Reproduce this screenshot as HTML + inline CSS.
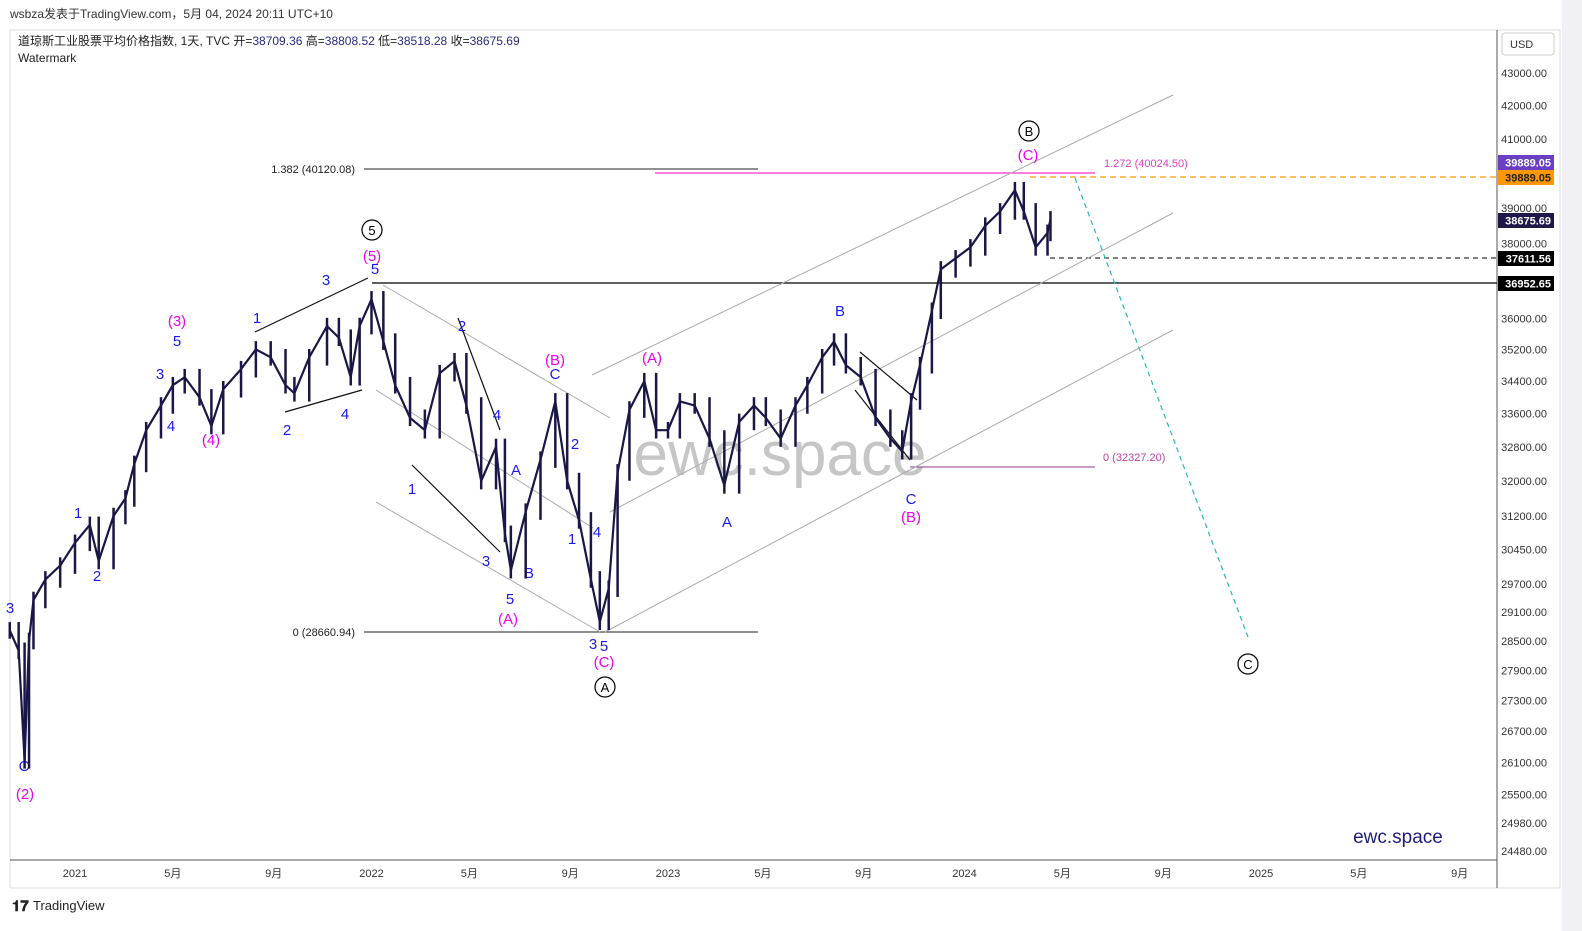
<!DOCTYPE html>
<html><head><meta charset="utf-8">
<style>
html,body{margin:0;padding:0;background:#fff;width:1582px;height:931px;overflow:hidden;font-family:"Liberation Sans","Noto Sans CJK SC",sans-serif;}
svg{position:absolute;left:0;top:0}
</style></head>
<body>
<svg id="chart" width="1582" height="931" xmlns="http://www.w3.org/2000/svg" font-family="Liberation Sans, Noto Sans CJK SC, sans-serif">
<rect x="0" y="0" width="1582" height="931" fill="#fff"/>
<rect x="1562" y="0" width="20" height="931" fill="#f0f0f5"/>
<text x="10" y="18" font-size="12" fill="#333">wsbza发表于TradingView.com，5月 04, 2024 20:11 UTC+10</text>
<line x1="10" y1="30" x2="1560" y2="30" stroke="#ddd"/>
<line x1="10" y1="30" x2="10" y2="888" stroke="#ddd"/>
<line x1="1560" y1="30" x2="1560" y2="888" stroke="#ddd"/>
<line x1="10" y1="888" x2="1560" y2="888" stroke="#ddd"/>
<text x="18" y="45" font-size="12" fill="#222">道琼斯工业股票平均价格指数, 1天, TVC  开=<tspan fill="#2a2a80">38709.36</tspan>  高=<tspan fill="#2a2a80">38808.52</tspan>  低=<tspan fill="#2a2a80">38518.28</tspan>  收=<tspan fill="#2a2a80">38675.69</tspan></text>
<text x="18" y="62" font-size="12" fill="#222">Watermark</text>
<text x="780" y="475" font-size="62" fill="#b8b8b8" text-anchor="middle" opacity="0.8">ewc.space</text>
<text x="1398" y="843" font-size="19" fill="#1c1c7a" text-anchor="middle">ewc.space</text>
<line x1="1497" y1="30" x2="1497" y2="888" stroke="#555"/>
<line x1="10" y1="860" x2="1497" y2="860" stroke="#555"/>
<rect x="1502" y="33" width="52" height="22" rx="3" fill="#fff" stroke="#ccc"/>
<text x="1510" y="48" font-size="11" fill="#333">USD</text>
<g id="ann"></g>
<g id="bars"></g>
<g id="axes"></g>
<text x="12" y="911" font-size="15" font-weight="bold" fill="#222">𝟏𝟕</text>
<text x="33" y="910" font-size="13" fill="#222">TradingView</text>
</svg>
<script>
const dates=[2020.78,2020.81,2020.83,2020.845,2020.86,2020.90,2020.95,2021.00,2021.05,2021.08,2021.13,2021.17,2021.20,2021.24,2021.29,2021.33,2021.37,2021.42,2021.46,2021.50,2021.56,2021.61,2021.66,2021.71,2021.74,2021.79,2021.85,2021.89,2021.93,2021.96,2022.00,2022.04,2022.08,2022.13,2022.18,2022.23,2022.28,2022.32,2022.37,2022.42,2022.45,2022.47,2022.52,2022.57,2022.62,2022.66,2022.70,2022.74,2022.77,2022.80,2022.83,2022.87,2022.92,2022.96,2023.00,2023.04,2023.09,2023.14,2023.19,2023.24,2023.29,2023.33,2023.38,2023.43,2023.47,2023.52,2023.56,2023.60,2023.65,2023.70,2023.75,2023.79,2023.82,2023.85,2023.89,2023.92,2023.97,2024.02,2024.07,2024.12,2024.17,2024.20,2024.24,2024.28,2024.29];
const closes=[28720,28300,26140,28500,29360,29800,30100,30600,31000,30200,31200,31600,32400,33200,33800,34300,34500,34000,33300,34200,34700,35200,35000,34300,34100,35000,35800,35500,34500,35800,36500,35400,34300,33500,33200,34600,34900,33800,32000,32800,30800,30000,31300,32500,33900,32000,31100,29800,28900,29600,32200,33700,34400,33200,33200,33900,33800,33000,31900,33400,33800,33500,33000,33800,34300,35000,35400,34800,34500,33500,33000,32700,33900,34800,36200,37300,37600,37900,38500,38900,39500,38900,37900,38300,38675];
const priceTicks=[43000,42000,41000,39000,38000,36000,35200,34400,33600,32800,32000,31200,30450,29700,29100,28500,27900,27300,26700,26100,25500,24980,24480];
const timeTicks=[[2021,"2021"],[2021.33,"5月"],[2021.67,"9月"],[2022,"2022"],[2022.33,"5月"],[2022.67,"9月"],[2023,"2023"],[2023.32,"5月"],[2023.66,"9月"],[2024,"2024"],[2024.33,"5月"],[2024.67,"9月"],[2025,"2025"],[2025.33,"5月"],[2025.67,"9月"]];
const NS="http://www.w3.org/2000/svg";
function y(p){return 73-1381*Math.log(p/43000);}
function x(t){return 75+(t-2021)*296.5;}
function mk(tag,attrs,parent){const e=document.createElementNS(NS,tag);for(const k in attrs)e.setAttribute(k,attrs[k]);parent.appendChild(e);return e;}
const bars=document.getElementById('bars'),axes=document.getElementById('axes'),ann=document.getElementById('ann');
let pts=dates.map((d,i)=>x(d).toFixed(1)+','+y(closes[i]).toFixed(1)).join(' ');
const pl=mk('polyline',{points:pts,fill:'none',stroke:'#1a1646','stroke-width':2.2},bars);


for(let i=0;i<dates.length;i++){
  const prev=i>0?closes[i-1]:closes[i];
  const hi=Math.max(prev,closes[i])*1.006, lo=Math.min(prev,closes[i])*0.994;
  const b=mk('line',{x1:x(dates[i]),x2:x(dates[i]),y1:y(hi),y2:y(lo),stroke:'#1a1646','stroke-width':2.5},bars);
  
  
}
priceTicks.forEach(p=>{
  const t=mk('text',{x:1547,y:y(p)+4,'font-size':11,fill:'#333','text-anchor':'end'},axes);
  t.textContent=p.toFixed(2);
  
  
});
timeTicks.forEach(tt=>{
  const t=mk('text',{x:x(tt[0]),y:877,'font-size':11,fill:'#333','text-anchor':'middle'},axes);
  t.textContent=tt[1];
  
  
});
[[155,'#6a3fc4','#fff','39889.05'],[170,'#ff9800','#222','39889.05'],[213,'#21184a','#fff','38675.69'],[251,'#000','#fff','37611.56'],[276,'#000','#fff','36952.65']].forEach(l=>{
  const cy=l[0];
  const r=mk('rect',{x:1498,y:cy,width:56,height:15,fill:l[1]},axes);
  
  
  const t=mk('text',{x:1551,y:cy+11.5,'font-size':11,'font-weight':'bold',fill:l[2],'text-anchor':'end'},axes);
  t.textContent=l[3];
  
  
});
const lines=[
 [364,169,758,169,'#222',1,''],[364,632,758,632,'#222',1,''],[655,173,1095,173,'#ff33cc',1.2,''],[910,467,1095,467,'#8a3a8a',1,''],
 [1030,177,1497,177,'#ff9800',1.2,'6,4'],[1050,258,1497,258,'#000',1,'5,4'],[372,283,1497,283,'#000',1.2,''],[1075,178,1248,637,'#29b6c8',1.2,'5,4'],
 [592,375,1173,95,'#aaa',1,''],[610,512,1173,213,'#aaa',1,''],[605,632,1173,330,'#aaa',1,''],
 [383,285,610,418,'#aaa',1,''],[376,390,593,528,'#aaa',1,''],[376,502,600,632,'#aaa',1,''],
 [255,332,368,278,'#111',1.2,''],[285,412,362,390,'#111',1.2,''],[458,318,500,430,'#111',1.2,''],[412,465,500,552,'#111',1.2,''],
 [860,352,917,400,'#111',1.2,''],[855,390,910,460,'#111',1.2,'']];
lines.forEach(l=>{
  const e=mk('line',{x1:l[0],y1:l[1],x2:l[2],y2:l[3],stroke:l[4],'stroke-width':l[5]},ann);
  if(l[6])e.setAttribute('stroke-dasharray',l[6]);
  
  
});
[[355,173,'end','#222','1.382 (40120.08)'],[355,636,'end','#222','0 (28660.94)'],[1104,167,'start','#e040c0','1.272 (40024.50)'],[1103,461,'start','#c040a0','0 (32327.20)']].forEach(l=>{
  const t=mk('text',{x:l[0],y:l[1],'font-size':11,fill:l[3],'text-anchor':l[2]},ann);
  t.textContent=l[4];
  
  
});
const blue=[[10,607,'3'],[24,765,'C'],[78,512,'1'],[97,575,'2'],[160,373,'3'],[177,340,'5'],[171,425,'4'],[257,317,'1'],[326,279,'3'],[287,429,'2'],[345,413,'4'],[375,268,'5'],[462,325,'2'],[412,488,'1'],[497,414,'4'],[516,469,'A'],[486,560,'3'],[529,572,'B'],[510,598,'5'],[555,373,'C'],[575,443,'2'],[572,538,'1'],[597,531,'4'],[593,643,'3'],[604,645,'5'],[727,521,'A'],[840,310,'B'],[911,498,'C']];
blue.forEach(l=>{
  const t=mk('text',{x:l[0],y:l[1]+6,'font-size':15,fill:'#1a1aee','text-anchor':'middle'},ann);
  t.textContent=l[2];
  
  
});
const mag=[[25,793,'(2)'],[177,320,'(3)'],[211,439,'(4)'],[372,255,'(5)'],[508,618,'(A)'],[555,359,'(B)'],[604,661,'(C)'],[652,357,'(A)'],[911,516,'(B)'],[1028,154,'(C)']];
mag.forEach(l=>{
  const t=mk('text',{x:l[0],y:l[1]+6,'font-size':15,fill:'#ee00ee','text-anchor':'middle'},ann);
  t.textContent=l[2];
  
  
});
[[372,230,'5'],[605,687,'A'],[1029,131,'B'],[1248,664,'C']].forEach(l=>{
  const c=mk('circle',{cx:l[0],cy:l[1],r:10,fill:'#fff',stroke:'#000','stroke-width':1.2},ann);
  
  
  const t=mk('text',{x:l[0],y:l[1]+5,'font-size':13,fill:'#000','text-anchor':'middle'},ann);
  t.textContent=l[2];
  
  
});
</script>
</body></html>
